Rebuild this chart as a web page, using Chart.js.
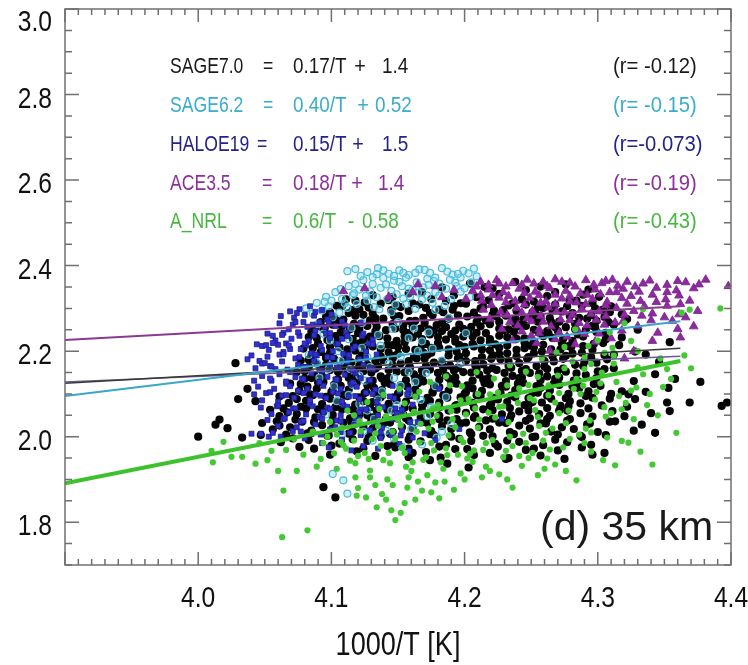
<!DOCTYPE html>
<html><head><meta charset="utf-8">
<script src="https://cdn.jsdelivr.net/npm/chart.js@4.4.0/dist/chart.umd.min.js"></script>
<style>html,body{margin:0;padding:0;background:#fff}canvas{display:block}</style>
</head><body>
<canvas id="c" width="748" height="665"></canvas>
<script>
// ---------------- DATA ----------------
const xTicks = [4.0, 4.1, 4.2, 4.3, 4.4];
const yTicks = [1.8, 2.0, 2.2, 2.4, 2.6, 2.8, 3.0];
const xTitle = "1000/T [K]";
const panelLabel = "(d) 35 km";

const seriesNames = ["SAGE7.0", "SAGE6.2", "HALOE19", "ACE3.5", "A_NRL"];
const eqCoef  = ["0.17/T", "0.40/T", "0.15/T", "0.18/T", "0.6/T"];
const eqSign  = ["+", "+", "+", "+", "-"];
const eqConst = ["1.4", "0.52", "1.5", "1.4", "0.58"];
const rTexts  = ["(r= -0.12)", "(r= -0.15)", "(r=-0.073)", "(r= -0.19)", "(r= -0.43)"];

// regression lines (end points)
const fitX      = [3.9, 4.362];
const fitSage70 = [2.125, 2.207];
const fitSage62 = [2.095, 2.270];
const fitHaloe  = [2.128, 2.188];
const fitAce    = [2.226, 2.305];
const fitAnrl   = [1.891, 2.177];

// SAGE7.0 (black dots)
const sage70Pts = [
[4.204,2.358],[4.221,2.347],[4.238,2.362],[4.257,2.351],[4.276,2.356],[4.293,2.344],[4.183,2.349],[4.168,2.338],
[4.131,2.331],[4.146,2.327],[4.158,2.335],[4.175,2.322],[4.192,2.331],[4.209,2.326],[4.226,2.334],[4.243,2.321],[4.262,2.329],[4.279,2.319],[4.301,2.327],[4.118,2.318],
[4.104,2.306],[4.121,2.298],[4.137,2.311],[4.152,2.303],[4.166,2.309],[4.181,2.297],[4.197,2.312],[4.214,2.304],[4.229,2.296],[4.246,2.309],[4.259,2.301],[4.273,2.293],[4.288,2.306],[4.304,2.297],[4.318,2.286],
[4.096,2.281],[4.109,2.274],[4.124,2.285],[4.139,2.276],[4.151,2.282],[4.163,2.271],[4.176,2.284],[4.188,2.276],[4.202,2.281],[4.216,2.272],[4.231,2.283],[4.244,2.275],[4.257,2.282],[4.271,2.269],[4.286,2.278],[4.299,2.271],[4.312,2.262],
[4.088,2.256],[4.101,2.262],[4.114,2.251],[4.127,2.259],[4.141,2.249],[4.154,2.262],[4.167,2.253],[4.179,2.261],[4.193,2.248],[4.205,2.257],[4.219,2.263],[4.233,2.251],[4.246,2.259],[4.262,2.247],[4.276,2.256],[4.291,2.249],[4.306,2.243],
[4.083,2.233],[4.097,2.226],[4.111,2.237],[4.124,2.228],[4.136,2.235],[4.149,2.224],[4.161,2.232],[4.174,2.239],[4.186,2.227],[4.199,2.234],[4.212,2.225],[4.226,2.236],[4.239,2.229],[4.252,2.222],[4.266,2.231],[4.281,2.224],[4.297,2.217],[4.316,2.214],[4.354,2.221],
[4.079,2.206],[4.092,2.198],[4.106,2.209],[4.118,2.201],[4.131,2.211],[4.143,2.197],[4.156,2.205],[4.169,2.196],[4.181,2.208],[4.194,2.199],[4.207,2.211],[4.219,2.202],[4.232,2.195],[4.245,2.207],[4.258,2.199],[4.272,2.204],[4.288,2.196],[4.305,2.191],[4.328,2.199],
[4.077,2.178],[4.089,2.171],[4.102,2.182],[4.115,2.174],[4.127,2.168],[4.139,2.179],[4.152,2.171],[4.164,2.183],[4.177,2.173],[4.189,2.166],[4.201,2.177],[4.214,2.169],[4.227,2.181],[4.241,2.172],[4.254,2.165],[4.267,2.176],[4.283,2.168],[4.299,2.173],[4.028,2.172],
[4.074,2.151],[4.087,2.144],[4.099,2.156],[4.112,2.147],[4.124,2.153],[4.137,2.141],[4.149,2.152],[4.162,2.146],[4.174,2.157],[4.186,2.143],[4.199,2.151],[4.211,2.145],[4.224,2.156],[4.236,2.142],[4.249,2.149],[4.262,2.141],[4.276,2.152],[4.291,2.144],[4.343,2.146],[4.358,2.135],[4.377,2.128],
[4.069,2.124],[4.082,2.117],[4.094,2.128],[4.107,2.119],[4.119,2.126],[4.132,2.114],[4.144,2.123],[4.157,2.117],[4.169,2.129],[4.181,2.116],[4.194,2.124],[4.206,2.113],[4.219,2.122],[4.231,2.117],[4.244,2.126],[4.257,2.114],[4.271,2.121],[4.286,2.113],[4.302,2.119],[4.037,2.112],[4.030,2.088],[4.353,2.114],
[4.061,2.094],[4.074,2.088],[4.086,2.097],[4.099,2.089],[4.112,2.095],[4.124,2.083],[4.137,2.092],[4.149,2.086],[4.162,2.097],[4.174,2.084],[4.187,2.091],[4.199,2.083],[4.212,2.095],[4.225,2.087],[4.238,2.092],[4.251,2.081],[4.265,2.089],[4.279,2.083],[4.296,2.091],[4.043,2.083],[4.328,2.088],[4.352,2.080],[4.369,2.080],[4.323,2.099],
[4.054,2.063],[4.067,2.057],[4.081,2.066],[4.094,2.058],[4.108,2.064],[4.121,2.052],[4.134,2.061],[4.148,2.055],[4.161,2.066],[4.174,2.053],[4.188,2.061],[4.201,2.056],[4.214,2.064],[4.228,2.052],[4.241,2.059],[4.256,2.053],[4.271,2.061],[4.287,2.055],[4.016,2.040],[4.354,2.060],[4.320,2.048],[4.340,2.055],
[4.048,2.032],[4.061,2.026],[4.078,2.035],[4.093,2.027],[4.109,2.033],[4.124,2.024],[4.139,2.031],[4.153,2.022],[4.168,2.034],[4.183,2.025],[4.197,2.031],[4.211,2.023],[4.226,2.033],[4.241,2.026],[4.257,2.031],[4.273,2.022],[4.292,2.029],[4.013,2.028],[4.022,2.020],[4.343,2.009],[4.327,2.014],
[4.000,2.000],[4.033,1.998],[4.047,2.004],[4.071,1.996],[4.098,2.003],[4.116,1.994],[4.137,2.001],[4.158,1.993],[4.177,2.004],[4.196,1.995],[4.214,2.002],[4.232,1.991],[4.251,1.999],[4.268,1.993],[4.287,2.002],
[4.087,1.972],[4.119,1.966],[4.148,1.975],[4.171,1.964],[4.193,1.971],[4.219,1.962],[4.246,1.969],[4.296,1.958],[4.305,1.962],
[4.187,1.937],[4.203,1.928],[4.174,1.945],[4.094,1.882],[4.103,1.858],[4.231,1.948],[4.158,1.952],
[4.113,2.289],[4.129,2.272],[4.145,2.296],[4.170,2.266],[4.184,2.291],[4.209,2.268],[4.222,2.295],[4.238,2.264],[4.251,2.291],[4.265,2.268],
[4.107,2.244],[4.121,2.218],[4.133,2.246],[4.146,2.214],[4.158,2.242],[4.171,2.217],[4.183,2.247],[4.196,2.214],[4.209,2.243],[4.223,2.216],[4.237,2.245],[4.249,2.213],[4.263,2.241],[4.278,2.212],
[4.096,2.187],[4.111,2.161],[4.123,2.191],[4.135,2.164],[4.147,2.189],[4.159,2.162],[4.172,2.191],[4.184,2.158],[4.196,2.187],[4.209,2.159],[4.221,2.190],[4.235,2.161],[4.248,2.186],[4.262,2.158],[4.276,2.189],
[4.085,2.137],[4.101,2.109],[4.113,2.138],[4.126,2.104],[4.138,2.136],[4.151,2.103],[4.163,2.135],[4.176,2.105],[4.188,2.137],[4.201,2.104],[4.214,2.134],[4.227,2.102],[4.241,2.137],[4.255,2.103],[4.268,2.135],[4.282,2.131],
[4.118,2.075],[4.131,2.045],[4.143,2.077],[4.156,2.043],[4.169,2.076],[4.181,2.041],[4.194,2.074],[4.207,2.044],[4.220,2.077],[4.234,2.042],[4.248,2.074],[4.262,2.041],[4.278,2.071],
[4.397,2.080],[4.393,2.072],
[4.111,2.321],[4.125,2.314],[4.143,2.319],[4.161,2.312],[4.186,2.317],[4.201,2.311],[4.218,2.319],[4.236,2.312],[4.252,2.316],[4.268,2.309],[4.284,2.318],[4.296,2.312],
[4.099,2.291],[4.116,2.296],[4.131,2.288],[4.158,2.294],[4.174,2.289],[4.191,2.297],[4.207,2.290],[4.221,2.285],[4.239,2.294],[4.253,2.287],[4.266,2.295],[4.281,2.289],[4.295,2.284],[4.309,2.291],
[4.092,2.268],[4.104,2.271],[4.117,2.264],[4.133,2.269],[4.146,2.263],[4.159,2.270],[4.183,2.266],[4.196,2.262],[4.226,2.268],[4.241,2.261],[4.255,2.269],[4.283,2.264],[4.296,2.259],[4.308,2.268],
[4.085,2.246],[4.094,2.251],[4.120,2.242],[4.154,2.249],[4.165,2.241],[4.177,2.248],[4.190,2.240],[4.203,2.247],[4.216,2.242],[4.229,2.249],[4.256,2.243],[4.270,2.247],[4.285,2.239],[4.299,2.245],
[4.090,2.218],[4.104,2.223],[4.117,2.216],[4.130,2.222],[4.142,2.215],[4.155,2.221],[4.168,2.214],[4.180,2.219],[4.193,2.222],[4.206,2.217],[4.219,2.221],[4.232,2.213],[4.245,2.220],[4.259,2.215],[4.273,2.219],[4.289,2.212],[4.304,2.219],
[4.085,2.190],[4.099,2.196],[4.112,2.189],[4.125,2.197],[4.137,2.188],[4.150,2.194],[4.162,2.187],[4.175,2.196],[4.188,2.190],[4.201,2.195],[4.213,2.186],[4.226,2.193],[4.239,2.188],[4.252,2.195],[4.266,2.188],[4.281,2.194],[4.295,2.186],[4.312,2.192],
[4.083,2.163],[4.096,2.168],[4.108,2.161],[4.121,2.166],[4.133,2.159],[4.146,2.167],[4.158,2.160],[4.171,2.165],[4.183,2.169],[4.195,2.161],[4.208,2.167],[4.221,2.160],[4.233,2.166],[4.246,2.158],[4.260,2.164],[4.274,2.159],[4.289,2.165],[4.305,2.158],
[4.080,2.136],[4.093,2.141],[4.105,2.134],[4.118,2.140],[4.131,2.131],[4.143,2.138],[4.156,2.132],[4.168,2.141],[4.181,2.133],[4.193,2.139],[4.206,2.131],[4.218,2.137],[4.231,2.130],[4.243,2.139],[4.257,2.132],[4.271,2.138],[4.285,2.130],[4.299,2.137],
[4.076,2.107],[4.089,2.112],[4.100,2.104],[4.113,2.110],[4.125,2.102],[4.138,2.109],[4.150,2.101],[4.163,2.110],[4.176,2.103],[4.188,2.108],[4.200,2.100],[4.213,2.107],[4.226,2.101],[4.238,2.109],[4.251,2.102],[4.264,2.108],[4.278,2.100],[4.293,2.106],[4.310,2.100],
[4.068,2.079],[4.081,2.084],[4.093,2.076],[4.105,2.082],[4.118,2.074],[4.131,2.081],[4.143,2.073],[4.156,2.082],[4.168,2.075],[4.181,2.080],[4.193,2.072],[4.206,2.079],[4.219,2.073],[4.232,2.081],[4.245,2.074],[4.258,2.080],[4.272,2.072],[4.287,2.078],[4.303,2.073],
[4.061,2.048],[4.074,2.053],[4.088,2.045],[4.101,2.051],[4.114,2.043],[4.127,2.050],[4.141,2.042],[4.154,2.051],[4.167,2.044],[4.181,2.049],[4.194,2.041],[4.208,2.048],[4.221,2.042],[4.235,2.050],[4.249,2.043],[4.264,2.049],[4.279,2.041],[4.296,2.047],
[4.056,2.017],[4.069,2.022],[4.085,2.014],[4.101,2.020],[4.116,2.012],[4.131,2.019],[4.146,2.011],[4.161,2.020],[4.175,2.013],[4.190,2.018],[4.204,2.010],[4.219,2.017],[4.234,2.011],[4.249,2.019],[4.265,2.012],[4.282,2.018],[4.300,2.011],
[4.062,1.987],[4.083,1.992],[4.106,1.984],[4.127,1.990],[4.147,1.982],[4.167,1.989],[4.186,1.981],[4.205,1.990],[4.223,1.983],[4.241,1.988],[4.259,1.980],[4.277,1.987],[4.295,1.981],
[4.099,1.958],[4.133,1.955],[4.161,1.962],[4.182,1.951],[4.207,1.957],[4.233,1.950],[4.257,1.956],[4.275,1.948],
[4.215,2.350],[4.246,2.343],[4.268,2.338],[4.289,2.332],[4.310,2.305],[4.322,2.275],[4.330,2.250],[4.318,2.232],[4.336,2.192],[4.346,2.175],[4.312,2.160],[4.327,2.130],[4.318,2.106],[4.336,2.105],[4.322,2.070],[4.309,2.035],[4.333,2.028],
[4.108,2.305],[4.128,2.302],[4.149,2.307],[4.171,2.301],[4.192,2.306],[4.212,2.300],[4.233,2.307],[4.255,2.302],[4.277,2.305],[4.298,2.300],
[4.102,2.279],[4.118,2.283],[4.133,2.277],[4.147,2.282],[4.169,2.278],[4.195,2.284],[4.210,2.277],[4.224,2.281],[4.238,2.276],[4.251,2.283],[4.264,2.277],[4.279,2.282],[4.292,2.276],[4.305,2.280],
[4.095,2.254],[4.108,2.258],[4.121,2.252],[4.134,2.257],[4.148,2.253],[4.161,2.258],[4.173,2.251],[4.186,2.256],[4.199,2.252],[4.212,2.258],[4.226,2.253],[4.239,2.257],[4.252,2.250],[4.268,2.256],[4.283,2.251],[4.298,2.256],
[4.089,2.231],[4.103,2.235],[4.116,2.229],[4.129,2.234],[4.142,2.230],[4.155,2.235],[4.168,2.228],[4.180,2.233],[4.193,2.229],[4.206,2.234],[4.219,2.228],[4.232,2.233],[4.245,2.230],[4.259,2.235],[4.274,2.229],[4.289,2.234],[4.306,2.228],
[4.086,2.207],[4.099,2.210],[4.112,2.204],[4.125,2.209],[4.137,2.205],[4.150,2.210],[4.163,2.203],[4.175,2.208],[4.188,2.204],[4.200,2.210],[4.213,2.204],[4.226,2.208],[4.239,2.203],[4.252,2.209],[4.265,2.204],[4.280,2.209],[4.296,2.203],
[4.083,2.180],[4.096,2.184],[4.109,2.178],[4.121,2.183],[4.133,2.177],[4.146,2.183],[4.158,2.177],[4.170,2.182],[4.183,2.177],[4.195,2.183],[4.208,2.177],[4.220,2.182],[4.233,2.176],[4.247,2.182],[4.260,2.177],[4.274,2.182],[4.290,2.176],[4.307,2.181],
[4.080,2.153],[4.093,2.157],[4.105,2.151],[4.118,2.156],[4.130,2.150],[4.143,2.156],[4.155,2.150],[4.168,2.155],[4.180,2.149],[4.192,2.155],[4.205,2.150],[4.217,2.155],[4.230,2.149],[4.243,2.154],[4.256,2.148],[4.270,2.154],[4.284,2.148],[4.300,2.153],
[4.077,2.123],[4.090,2.127],[4.102,2.121],[4.115,2.126],[4.127,2.120],[4.140,2.126],[4.152,2.120],[4.165,2.125],[4.177,2.119],[4.190,2.125],[4.202,2.120],[4.215,2.125],[4.228,2.119],[4.240,2.124],[4.254,2.118],[4.267,2.124],[4.281,2.118],[4.297,2.123],
[4.071,2.095],[4.084,2.099],[4.096,2.093],[4.109,2.098],[4.121,2.092],[4.134,2.098],[4.147,2.092],[4.159,2.097],[4.172,2.091],[4.184,2.097],[4.197,2.092],[4.209,2.097],[4.222,2.091],[4.235,2.096],[4.248,2.090],[4.262,2.096],[4.276,2.090],[4.291,2.095],[4.309,2.089],
[4.064,2.066],[4.077,2.070],[4.090,2.064],[4.103,2.069],[4.116,2.063],[4.129,2.069],[4.142,2.063],[4.155,2.068],[4.168,2.062],[4.181,2.068],[4.194,2.063],[4.207,2.068],[4.221,2.062],[4.234,2.067],[4.248,2.061],[4.262,2.067],[4.277,2.061],[4.293,2.066],[4.311,2.060],
[4.059,2.036],[4.073,2.040],[4.087,2.034],[4.101,2.039],[4.115,2.033],[4.130,2.039],[4.144,2.033],[4.158,2.038],[4.172,2.032],[4.187,2.038],[4.201,2.033],[4.216,2.038],[4.231,2.032],[4.246,2.037],[4.261,2.031],[4.277,2.037],[4.294,2.031],[4.313,2.036],
[4.066,2.005],[4.082,2.008],[4.097,2.002],[4.113,2.007],[4.128,2.001],[4.144,2.007],[4.159,2.001],[4.174,2.006],[4.190,2.000],[4.205,2.006],[4.221,2.001],[4.237,2.006],[4.253,2.000],[4.270,2.005],[4.288,1.999],[4.306,2.004],
[4.076,1.976],[4.100,1.979],[4.124,1.973],[4.142,1.978],[4.158,1.972],[4.181,1.977],[4.202,1.971],[4.225,1.977],[4.252,1.972],[4.270,1.968],[4.288,1.975]
];

// SAGE6.2 (cyan open circles)
const sage62Pts = [
[4.118,2.392],[4.127,2.385],[4.135,2.394],[4.143,2.381],[4.151,2.389],[4.158,2.378],[4.166,2.391],[4.174,2.383],[4.183,2.394],[4.191,2.379],[4.199,2.388],[4.207,2.393],
[4.139,2.371],[4.147,2.365],[4.156,2.372],[4.164,2.361],[4.172,2.369],[4.181,2.358],[4.189,2.367],[4.197,2.372],[4.205,2.361],[4.124,2.366],[4.131,2.357],
[4.113,2.352],[4.121,2.344],[4.137,2.348],[4.145,2.341],[4.153,2.352],[4.161,2.344],[4.169,2.349],[4.178,2.338],[4.186,2.346],[4.194,2.352],
[4.103,2.338],[4.096,2.327],[4.108,2.322],[4.116,2.331],[4.127,2.318],[4.134,2.326],[4.142,2.322],[4.159,2.328],[4.168,2.321],[4.176,2.313],[4.089,2.313],[4.098,2.305],[4.112,2.301],
[4.086,2.288],[4.101,2.279],[4.123,2.266],[4.145,2.291],[4.162,2.253],[4.188,2.278],[4.094,2.241],[4.113,2.228],[4.137,2.213],[4.158,2.231],[4.176,2.206],[4.201,2.242],
[4.083,2.191],[4.107,2.177],[4.129,2.163],[4.152,2.187],[4.171,2.149],[4.197,2.171],[4.091,2.138],[4.116,2.121],[4.138,2.106],[4.163,2.128],[4.186,2.093],
[4.104,2.083],[4.127,2.061],[4.149,2.074],[4.172,2.048],[4.118,2.029],[4.141,2.014],[4.163,2.031],[4.096,2.052],[4.183,2.012],
[4.109,1.898],[4.112,1.867],[4.101,1.913],[4.153,1.976],[4.131,1.991],
[4.122,2.376],[4.134,2.380],[4.147,2.376],[4.163,2.383],[4.178,2.372],[4.195,2.381],[4.209,2.375],[4.117,2.335],[4.129,2.340],[4.149,2.333],[4.165,2.337],[4.181,2.330],[4.197,2.339],[4.204,2.326],[4.093,2.295],[4.106,2.290],[4.119,2.310],[4.132,2.303],[4.148,2.309],[4.163,2.299],[4.185,2.306],[4.100,2.318],
[4.090,2.263],[4.115,2.255],[4.135,2.238],[4.150,2.268],[4.173,2.244],[4.105,2.200],[4.127,2.186],[4.143,2.171],[4.165,2.200],[4.183,2.178],[4.098,2.158],[4.121,2.143],[4.147,2.137],[4.178,2.118],[4.113,2.098],[4.135,2.087],[4.158,2.101],[4.175,2.069],[4.132,2.042],[4.153,2.052],[4.108,2.006],[4.147,1.996],[4.190,2.030],[4.168,1.982],
[4.112,2.387],[4.139,2.389],[4.154,2.383],[4.170,2.390],[4.187,2.386],[4.203,2.382],[4.131,2.373],[4.151,2.362],[4.177,2.364],[4.193,2.360],[4.118,2.357],[4.141,2.356],[4.158,2.346],[4.173,2.355],[4.200,2.347],[4.107,2.345],[4.126,2.330],[4.154,2.323],[4.172,2.330],[4.190,2.322],[4.095,2.315],[4.110,2.312],[4.136,2.298],[4.156,2.310],[4.178,2.296],[4.081,2.300],
[4.099,2.225],[4.123,2.208],[4.146,2.252],[4.168,2.223],[4.089,2.172],[4.114,2.158],[4.158,2.152],[4.102,2.118],[4.125,2.131],[4.152,2.119],[4.121,2.076],[4.145,2.061],[4.167,2.086],[4.124,2.012],[4.160,2.018],[4.179,1.998]
];

// HALOE19 (blue squares)
const haloePts = [
[4.076,2.298],[4.080,2.285],[4.072,2.278],[4.048,2.212],[4.051,2.214],[4.060,2.215],[4.066,2.218],[4.037,2.181],[4.046,2.177],[4.048,2.171],[4.054,2.165],[4.040,2.007],[4.047,2.007],[4.053,2.000],[4.056,2.009],
[4.084,2.305],[4.093,2.296],[4.071,2.262],[4.082,2.257],[4.091,2.268],[4.103,2.259],[4.064,2.243],[4.076,2.236],[4.088,2.247],[4.099,2.231],[4.111,2.244],[4.123,2.236],
[4.058,2.225],[4.069,2.205],[4.081,2.214],[4.093,2.203],[4.104,2.217],[4.116,2.206],[4.128,2.218],
[4.061,2.192],[4.073,2.183],[4.085,2.195],[4.097,2.186],[4.109,2.194],[4.121,2.181],[4.134,2.192],
[4.058,2.158],[4.069,2.151],[4.081,2.163],[4.093,2.154],[4.106,2.162],[4.118,2.149],[4.131,2.158],
[4.055,2.131],[4.066,2.124],[4.078,2.136],[4.091,2.127],[4.103,2.134],[4.115,2.122],[4.128,2.131],
[4.051,2.102],[4.063,2.096],[4.075,2.107],[4.088,2.099],[4.101,2.105],[4.113,2.094],[4.126,2.103],[4.139,2.096],[4.151,2.107],[4.164,2.094],
[4.059,2.071],[4.071,2.066],[4.084,2.077],[4.097,2.068],[4.109,2.074],[4.122,2.063],[4.135,2.072],[4.148,2.066],[4.161,2.075],
[4.064,2.041],[4.077,2.035],[4.091,2.046],[4.104,2.038],[4.118,2.043],[4.132,2.033],[4.146,2.041],[4.159,2.034],
[4.071,2.013],[4.085,2.006],[4.099,2.017],[4.114,2.009],[4.129,2.015],[4.145,2.004],[4.161,1.998],
[4.093,1.985],[4.124,1.978],[4.151,1.983],[4.178,1.992],[4.196,2.018],[4.189,2.061],[4.181,2.112],[4.228,2.041],
[4.062,2.282],[4.069,2.293],[4.087,2.283],[4.097,2.274],[4.068,2.251],[4.079,2.268],[4.095,2.256],[4.108,2.270],[4.056,2.236],[4.070,2.229],[4.083,2.224],[4.096,2.241],[4.108,2.229],[4.131,2.227],
[4.053,2.203],[4.064,2.198],[4.077,2.205],[4.089,2.190],[4.101,2.200],[4.113,2.187],[4.126,2.199],
[4.050,2.172],[4.063,2.176],[4.075,2.168],[4.087,2.177],[4.099,2.169],[4.112,2.175],[4.124,2.168],
[4.048,2.142],[4.061,2.146],[4.073,2.139],[4.085,2.148],[4.097,2.140],[4.110,2.145],[4.122,2.137],
[4.045,2.117],[4.057,2.112],[4.069,2.118],[4.082,2.112],[4.094,2.119],[4.107,2.112],[4.119,2.117],[4.133,2.110],[4.146,2.119],[4.158,2.110],
[4.048,2.085],[4.060,2.082],[4.072,2.091],[4.084,2.085],[4.096,2.090],[4.108,2.082],[4.121,2.088],[4.134,2.081],[4.147,2.090],
[4.055,2.053],[4.068,2.057],[4.081,2.052],[4.094,2.058],[4.107,2.050],[4.121,2.057],[4.135,2.050],[4.149,2.055],
[4.060,2.025],[4.074,2.022],[4.088,2.029],[4.103,2.022],[4.117,2.028],[4.138,2.021],[4.153,2.015],[4.080,1.996],[4.108,1.993],[4.137,1.997],
[4.074,2.289],[4.088,2.292],[4.100,2.286],
[4.061,2.265],[4.073,2.268],[4.086,2.262],[4.098,2.267],[4.110,2.261],[4.122,2.266],
[4.052,2.241],[4.063,2.238],[4.075,2.244],[4.087,2.237],[4.099,2.242],[4.112,2.236],[4.124,2.241],
[4.044,2.216],[4.056,2.219],[4.068,2.213],[4.080,2.218],[4.092,2.212],[4.105,2.217],[4.118,2.211],[4.131,2.216],
[4.040,2.190],[4.052,2.187],[4.064,2.193],[4.076,2.186],[4.088,2.192],[4.101,2.185],[4.113,2.191],[4.126,2.184],
[4.043,2.160],[4.055,2.164],[4.067,2.157],[4.079,2.163],[4.091,2.156],[4.104,2.162],[4.116,2.155],[4.129,2.161],
[4.042,2.131],[4.054,2.136],[4.066,2.129],[4.079,2.134],[4.091,2.128],[4.104,2.133],[4.116,2.127],[4.129,2.132],
[4.042,2.099],[4.054,2.104],[4.066,2.097],[4.079,2.102],[4.092,2.096],[4.105,2.101],[4.118,2.095],[4.131,2.100],[4.144,2.094],[4.157,2.099],
[4.047,2.068],[4.060,2.073],[4.073,2.066],[4.086,2.071],[4.099,2.065],[4.112,2.070],[4.126,2.064],[4.139,2.069],[4.153,2.063],
[4.052,2.039],[4.065,2.043],[4.079,2.037],[4.093,2.042],[4.107,2.036],[4.121,2.041],[4.135,2.035],[4.150,2.040],[4.165,2.034],
[4.062,2.000],[4.077,2.012],[4.092,2.005],[4.107,2.011],[4.122,2.004],[4.137,2.010],[4.152,2.003],[4.170,2.008],
[4.098,1.975],[4.115,1.968],[4.135,1.972],[4.158,1.966]
];

// ACE3.5 (purple triangles)
const acePts = [
[4.212,2.362],[4.224,2.366],[4.236,2.359],[4.247,2.367],[4.259,2.362],[4.268,2.368],[4.279,2.360],[4.291,2.366],[4.303,2.359],[4.311,2.367],[4.322,2.362],[4.339,2.365],[4.366,2.361],[4.381,2.367],[4.398,2.352],
[4.206,2.341],[4.218,2.344],[4.229,2.338],[4.241,2.346],[4.253,2.339],[4.264,2.347],[4.276,2.341],[4.287,2.335],[4.298,2.344],[4.309,2.338],[4.319,2.346],[4.331,2.339],[4.344,2.348],[4.359,2.342],[4.372,2.347],
[4.201,2.322],[4.213,2.318],[4.226,2.325],[4.238,2.317],[4.249,2.324],[4.261,2.316],[4.273,2.323],[4.284,2.314],[4.296,2.322],[4.307,2.315],[4.318,2.324],[4.332,2.317],[4.351,2.321],[4.369,2.318],
[4.214,2.297],[4.227,2.292],[4.239,2.301],[4.251,2.294],[4.263,2.302],[4.275,2.291],[4.288,2.299],[4.301,2.293],[4.314,2.301],[4.327,2.294],[4.341,2.288],[4.361,2.286],[4.375,2.294],
[4.219,2.275],[4.234,2.268],[4.247,2.277],[4.259,2.269],[4.272,2.274],[4.286,2.266],[4.299,2.273],[4.313,2.267],[4.356,2.271],[4.366,2.279],
[4.228,2.252],[4.243,2.246],[4.256,2.251],[4.271,2.243],[4.285,2.249],[4.301,2.241],[4.318,2.248],[4.345,2.243],[4.360,2.252],
[4.236,2.225],[4.254,2.219],[4.268,2.228],[4.283,2.216],[4.298,2.222],[4.327,2.200],[4.320,2.183],[4.341,2.224],[4.264,2.201],
[4.125,2.347],[4.143,2.327],[4.161,2.338],[4.178,2.352],[4.183,2.326],[4.192,2.343],[4.165,2.356],[4.109,2.340],
[4.218,2.355],[4.231,2.351],[4.243,2.355],[4.262,2.352],[4.283,2.351],[4.297,2.355],[4.315,2.353],[4.328,2.351],[4.352,2.355],
[4.221,2.331],[4.233,2.329],[4.256,2.331],[4.279,2.329],[4.292,2.332],[4.325,2.329],[4.341,2.332],[4.361,2.330],
[4.220,2.308],[4.245,2.309],[4.268,2.310],[4.291,2.310],[4.306,2.307],[4.335,2.305],[4.352,2.306],
[4.232,2.284],[4.257,2.282],[4.281,2.285],[4.306,2.282],[4.320,2.285],[4.340,2.272],
[4.240,2.260],[4.265,2.258],[4.292,2.260],[4.305,2.262],[4.330,2.258],[4.250,2.236],[4.277,2.234],[4.310,2.230],[4.362,2.232],[4.372,2.258],
[4.209,2.351],[4.226,2.358],[4.252,2.358],[4.273,2.362],[4.306,2.364],[4.334,2.358],[4.360,2.364],[4.376,2.356],[4.212,2.331],[4.245,2.336],[4.268,2.332],[4.302,2.333],[4.314,2.338],[4.352,2.338],[4.231,2.314],[4.257,2.313],[4.279,2.316],[4.322,2.311],[4.344,2.315],[4.362,2.310],[4.243,2.290],[4.269,2.292],[4.295,2.287],[4.333,2.283],[4.350,2.279],[4.250,2.270],[4.279,2.273],[4.319,2.270],[4.256,2.242],[4.290,2.240]
];

// A_NRL (green dots)
const anrlPts = [
[4.011,1.940],[4.010,1.967],[4.025,1.953],[4.033,1.953],[4.043,1.937],[4.019,1.988],[4.060,1.920],[4.064,1.874],[4.074,1.920],[4.063,1.765],[4.082,1.781],[4.055,1.967],[4.066,1.969],[4.046,1.985],[4.072,1.995],
[4.086,2.012],[4.094,1.985],[4.102,1.961],[4.108,2.021],[4.114,1.944],[4.117,1.991],[4.121,2.036],[4.125,1.962],[4.129,1.921],[4.133,2.008],[4.137,1.978],[4.141,2.048],[4.144,1.938],[4.148,1.995],[4.152,2.027],[4.155,1.962],[4.158,1.905],[4.162,2.058],[4.166,1.987],[4.169,1.946],[4.173,2.019],[4.177,1.968],[4.180,2.074],[4.184,1.925],[4.188,2.003],[4.191,2.041],[4.195,1.958],[4.199,1.987],[4.203,2.088],[4.206,1.941],[4.210,2.021],[4.214,1.969],[4.218,2.056],[4.221,1.992],[4.225,2.103],[4.229,1.952],[4.233,2.034],[4.236,1.978],[4.240,2.079],[4.244,2.007],[4.248,2.121],[4.251,1.962],[4.255,2.046],[4.259,1.991],[4.263,2.097],[4.266,2.019],[4.270,2.143],[4.274,1.975],[4.278,2.061],[4.282,2.112],[4.286,2.005],[4.290,2.158],[4.294,2.038],[4.298,2.087],[4.302,2.125],[4.307,1.998],[4.312,2.171],[4.318,2.064],[4.325,2.108],[4.334,2.146],[4.347,2.183],[4.359,2.009],
[4.323,1.986],[4.313,1.933],[4.332,1.965],[4.341,1.935],[4.284,1.898],[4.236,1.881],[4.226,1.912],[4.213,1.905],[4.197,1.914],[4.178,1.893],[4.168,1.874],[4.157,1.881],[4.148,1.805],[4.145,1.828],[4.152,1.822],[4.134,1.835],[4.141,1.853],[4.126,1.858],[4.163,1.853],[4.119,1.862],[4.133,1.887],[4.104,1.925],[4.092,1.948],
[4.099,2.035],[4.112,2.061],[4.127,2.081],[4.139,2.098],[4.151,2.112],[4.163,2.094],[4.174,2.128],[4.186,2.141],[4.198,2.118],[4.209,2.151],[4.222,2.136],[4.234,2.167],[4.246,2.152],[4.258,2.182],[4.269,2.197],[4.281,2.176],[4.293,2.212],[4.305,2.196],
[4.283,2.251],[4.309,2.244],[4.320,2.265],[4.334,2.298],[4.363,2.290],[4.369,2.297],[4.392,2.300],
[4.161,1.940],[4.187,1.957],[4.207,1.968],[4.243,1.932],[4.262,1.949],[4.276,1.920],[4.295,1.965],[4.255,1.910],[4.192,1.876],[4.118,1.905],[4.109,1.980],[4.176,2.035],[4.201,2.052],[4.229,2.071],[4.252,2.085],[4.271,2.102],[4.289,2.119],[4.305,2.069],[4.316,2.095],[4.327,2.041],[4.349,2.116],[4.337,2.074],
[4.104,2.005],[4.111,1.972],[4.122,2.013],[4.128,1.948],[4.135,2.025],[4.143,1.962],[4.150,2.040],[4.156,1.930],[4.164,2.012],[4.171,1.952],[4.179,2.049],[4.186,1.973],[4.193,2.022],[4.202,1.949],[4.208,2.066],[4.216,1.985],[4.223,2.045],[4.231,1.967],[4.239,2.097],[4.246,1.985],[4.253,2.062],[4.261,2.009],[4.268,2.080],[4.276,2.032],[4.284,2.135],[4.291,2.019],[4.299,2.105],[4.306,2.047],[4.314,2.128],[4.321,2.079],[4.330,2.162],[4.339,2.100],[4.352,2.158],[4.365,2.190],
[4.129,1.905],[4.146,1.887],[4.172,1.910],[4.185,1.895],[4.216,1.930],[4.248,1.950],[4.268,1.935],[4.290,1.985],[4.304,1.945],[4.138,1.866],[4.181,1.856],[4.118,1.938],[4.097,2.000],[4.079,1.958],[4.089,1.930],[4.052,1.945],
[4.263,2.120],[4.241,2.113],[4.219,2.099],[4.197,2.085],[4.176,2.066],[4.155,2.078],[4.136,2.065],[4.117,2.050],[4.290,2.185],[4.300,2.225],[4.275,2.210],[4.311,2.208],[4.325,2.224],
[4.107,1.988],[4.120,1.955],[4.131,1.995],[4.139,1.945],[4.146,2.012],[4.153,1.975],[4.160,1.920],[4.167,2.030],[4.175,1.985],[4.182,1.940],[4.190,2.060],[4.197,1.995],[4.204,1.960],[4.211,2.040],[4.219,1.920],[4.226,2.070],[4.234,2.000],[4.241,1.955],[4.249,2.090],[4.256,2.025],[4.264,1.970],[4.271,2.055],[4.279,1.995],[4.287,2.100],[4.295,2.010],[4.303,2.150],[4.310,2.055],[4.318,1.990],[4.329,2.115],[4.345,2.050],[4.355,2.135],[4.370,2.160],
[4.142,1.900],[4.165,1.895],[4.200,1.900],[4.232,1.900],[4.260,1.925],[4.120,1.880],[4.155,1.845],[4.175,1.870],[4.210,2.100],[4.189,2.120],[4.232,2.120],[4.255,2.140],[4.275,2.160],[4.295,2.170],[4.312,2.190],[4.330,2.200],[4.166,2.105]
];

// ---------------- CHART ----------------
const toXY = a => a.map(p => ({x: p[0], y: p[1]}));
const fitLine = ys => fitX.map((x, i) => ({x: x, y: ys[i]}));

const FONT = "'Liberation Sans', Arial, sans-serif";
function txt(ctx, s, x, y, size, sx, color, align) {
  ctx.save();
  ctx.font = size + 'px ' + FONT;
  ctx.fillStyle = color;
  ctx.textBaseline = 'alphabetic';
  ctx.textAlign = 'left';
  const w = ctx.measureText(s).width * sx;
  const left = align === 'right' ? x - w : (align === 'center' ? x - w / 2 : x);
  ctx.translate(left, y);
  ctx.scale(sx, 1);
  ctx.fillText(s, 0, 0);
  ctx.restore();
}

const textColors = ['#1a1a1a', '#3aaccc', '#23238c', '#8e2d9c', '#46b840'];
const eqSignX = [360, 363, 358, 357, 351];
const eqConstX = [382, 375, 382, 378, 362];
const eqNameEqX = [263, 263, 257, 262, 262];
const rowBase = [73, 112, 151, 190, 228];

const axesPlugin = {
  id: 'axesDeco',
  afterDraw(chart) {
    const ctx = chart.ctx, a = chart.chartArea, xs = chart.scales.x, ys = chart.scales.y;
    ctx.save();
    ctx.strokeStyle = '#707070';
    ctx.lineWidth = 1.5;
    ctx.strokeRect(a.left, a.top, a.right - a.left, a.bottom - a.top);
    ctx.beginPath();
    for (let i = 0; i <= 50; i++) {
      const px = xs.getPixelForValue(3.9 + i * 0.01);
      const L = (i % 10 === 0) ? 13 : 6;
      ctx.moveTo(px, a.bottom); ctx.lineTo(px, a.bottom - L);
      ctx.moveTo(px, a.top); ctx.lineTo(px, a.top + L);
    }
    for (let i = 0; i <= 26; i++) {
      const py = ys.getPixelForValue(1.7 + i * 0.05);
      const L = ((i - 2) % 4 === 0) ? 14 : 7;
      ctx.moveTo(a.left, py); ctx.lineTo(a.left + L, py);
      ctx.moveTo(a.right, py); ctx.lineTo(a.right - L, py);
    }
    ctx.stroke();
    ctx.restore();

    yTicks.forEach(v => {
      const py = ys.getPixelForValue(v);
      const cy = Math.max(py + 2, 20);
      txt(ctx, v.toFixed(1), 52, cy + 11, 30, 0.82, '#111', 'right');
    });
    xTicks.forEach(v => {
      const px = xs.getPixelForValue(v);
      txt(ctx, v.toFixed(1), px, 607, 30, 0.82, '#111', 'center');
    });
    txt(ctx, xTitle, 398, 655, 33, 0.82, '#111', 'center');

    for (let i = 0; i < seriesNames.length; i++) {
      const c = textColors[i], b = rowBase[i];
      txt(ctx, seriesNames[i], 170, b, 22, 0.8, c, 'left');
      txt(ctx, '=', eqNameEqX[i], b, 22, 0.8, c, 'left');
      txt(ctx, eqCoef[i], 293, b, 22, 0.86, c, 'left');
      txt(ctx, eqSign[i], eqSignX[i], b, 22, 0.9, c, 'center');
      txt(ctx, eqConst[i], eqConstX[i], b, 22, 0.86, c, 'left');
      txt(ctx, rTexts[i], 613, b, 22, 0.92, c, 'left');
    }
    txt(ctx, panelLabel, 540, 540, 41, 1.0, '#1a1a1a', 'left');
  }
};

new Chart(document.getElementById('c'), {
  type: 'scatter',
  data: {
    datasets: [
      {label: 'SAGE7.0', data: toXY(sage70Pts), order: 5, pointStyle: 'circle', pointRadius: 4.1, backgroundColor: '#050505', borderWidth: 0},
      {label: 'SAGE6.2', data: toXY(sage62Pts), order: 4, pointStyle: 'circle', pointRadius: 3.5, backgroundColor: 'rgba(120,210,235,0.35)', borderColor: '#4cbcdc', borderWidth: 1.2},
      {label: 'HALOE19', data: toXY(haloePts), order: 3, pointStyle: 'rect', pointRadius: 3.5, backgroundColor: '#3030d0', borderColor: '#1c1c88', borderWidth: 0.8},
      {label: 'ACE3.5', data: toXY(acePts), order: 2, pointStyle: 'triangle', pointRadius: 5, backgroundColor: '#8c2aa0', borderColor: '#7a1f8c', borderWidth: 0.8},
      {label: 'A_NRL', data: toXY(anrlPts), order: 1, pointStyle: 'circle', pointRadius: 3.1, backgroundColor: '#44c834', borderWidth: 0},
      {type: 'line', label: 'fitAce', data: fitLine(fitAce), order: 0, showLine: true, pointRadius: 0, borderColor: '#8a3a92', borderWidth: 2, fill: false},
      {type: 'line', label: 'fitSage62', data: fitLine(fitSage62), order: 0, showLine: true, pointRadius: 0, borderColor: '#38a8c8', borderWidth: 2, fill: false},
      {type: 'line', label: 'fitSage70', data: fitLine(fitSage70), order: 0, showLine: true, pointRadius: 0, borderColor: '#3a3a3a', borderWidth: 1.5, fill: false},
      {type: 'line', label: 'fitHaloe', data: fitLine(fitHaloe), order: 0, showLine: true, pointRadius: 0, borderColor: '#6a5a92', borderWidth: 1.5, fill: false},
      {type: 'line', label: 'fitAnrl', data: fitLine(fitAnrl), order: 0, showLine: true, pointRadius: 0, borderColor: '#3cc22c', borderWidth: 4, fill: false}
    ]
  },
  options: {
    responsive: false,
    animation: false,
    events: [],
    layout: {padding: {left: 65, right: 17, top: 9, bottom: 100}},
    plugins: {legend: {display: false}, tooltip: {enabled: false}},
    scales: {
      x: {type: 'linear', min: 3.9, max: 4.4, display: false},
      y: {type: 'linear', min: 1.7, max: 3.0, display: false}
    }
  },
  plugins: [axesPlugin]
});
</script>
</body></html>
